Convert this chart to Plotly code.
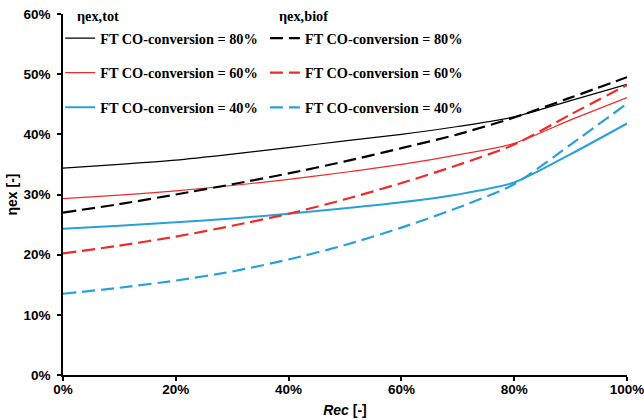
import plotly.graph_objects as go

rec = [0, 0.1, 0.2, 0.3, 0.4, 0.5, 0.6, 0.7, 0.8, 0.9, 1.0]

tot_80 = [0.344, 0.350, 0.357, 0.367, 0.378, 0.389, 0.400, 0.413, 0.429, 0.456, 0.483]
tot_60 = [0.293, 0.299, 0.306, 0.315, 0.325, 0.337, 0.350, 0.366, 0.385, 0.424, 0.461]
tot_40 = [0.243, 0.248, 0.254, 0.260, 0.268, 0.277, 0.287, 0.300, 0.320, 0.367, 0.418]

biof_80 = [0.270, 0.284, 0.300, 0.317, 0.335, 0.355, 0.377, 0.400, 0.428, 0.461, 0.495]
biof_60 = [0.202, 0.215, 0.230, 0.248, 0.268, 0.292, 0.319, 0.349, 0.383, 0.433, 0.482]
biof_40 = [0.135, 0.145, 0.157, 0.172, 0.192, 0.216, 0.245, 0.278, 0.317, 0.383, 0.451]

x_ticks = [0, 0.2, 0.4, 0.6, 0.8, 1.0]
y_ticks = [0, 0.1, 0.2, 0.3, 0.4, 0.5, 0.6]

labels = ["FT CO-conversion = 80%", "FT CO-conversion = 60%", "FT CO-conversion = 40%"]
header_tot = "ηex,tot"
header_biof = "ηex,biof"

BLACK = "#000000"
RED = "#ee2a2a"
BLUE = "#2aa0da"

fig = go.Figure()

tot_series = [(tot_80, BLACK, 1.2), (tot_60, RED, 1.2), (tot_40, BLUE, 2.0)]
biof_series = [(biof_80, BLACK), (biof_60, RED), (biof_40, BLUE)]

for i, ((ys, col, w), lab) in enumerate(zip(tot_series, labels)):
    fig.add_trace(go.Scatter(x=rec, y=ys, mode="lines", name=lab,
                             line=dict(color=col, width=w, shape="spline", smoothing=0.7),
                             legend="legend", legendgroup=f"t{i}"))
for i, ((ys, col), lab) in enumerate(zip(biof_series, labels)):
    fig.add_trace(go.Scatter(x=rec, y=ys, mode="lines", name=lab,
                             line=dict(color=col, width=2.2, dash="13px,6px",
                                       shape="spline", smoothing=0.7),
                             legend="legend2", legendgroup=f"b{i}"))

legfont = dict(family="Liberation Serif", size=14.3, color="black", weight="bold")
tickfont = dict(family="Liberation Sans", size=13.5, color="black", weight="bold")
axtitlefont = dict(family="Liberation Sans", size=14, color="black")

for xpos, txt in [(0.0213, header_tot), (0.38, header_biof)]:
    fig.add_annotation(x=xpos, y=0.9945, xref="paper", yref="paper",
                       xanchor="left", yanchor="middle", showarrow=False,
                       text=txt, font=legfont)

fig.update_layout(
    width=644, height=420,
    margin=dict(l=63, r=17, t=14, b=45, autoexpand=False),
    paper_bgcolor="white", plot_bgcolor="white",
    showlegend=True,
    legend=dict(x=-0.005, y=0.977, xanchor="left", yanchor="top",
                bgcolor="rgba(0,0,0,0)", font=legfont,
                tracegroupgap=13, itemwidth=30),
    legend2=dict(x=0.358, y=0.977, xanchor="left", yanchor="top",
                 bgcolor="rgba(0,0,0,0)", font=legfont,
                 tracegroupgap=13, itemwidth=30),
    xaxis=dict(range=[0, 1], tickvals=x_ticks,
               tickformat=".0%", showgrid=False, zeroline=False, automargin=False,
               showline=True, linecolor="black", linewidth=1.5,
               ticks="outside", ticklen=4, tickcolor="black", tickwidth=1.5,
               ticklabelstandoff=-3, ticklabeloverflow="allow",
               tickfont=tickfont,
               title=dict(text="<b><i>Rec</i> [-]</b>", font=axtitlefont, standoff=9)),
    yaxis=dict(range=[0, 0.6], tickvals=y_ticks, tickformat=".0%", showgrid=False,
               zeroline=False, showline=True, linecolor="black", linewidth=1.5,
               automargin=False,
               ticks="outside", ticklen=4, tickcolor="black", tickwidth=1.5,
               ticklabelstandoff=4, ticklabeloverflow="allow",
               tickfont=tickfont,
               title=dict(text="<b>ηex [-]</b>", font=axtitlefont, standoff=3)),
)

fig.write_html("out.html",
               config={"displayModeBar": False},
               post_script="document.body.style.margin='0px';document.body.style.padding='0px';")
